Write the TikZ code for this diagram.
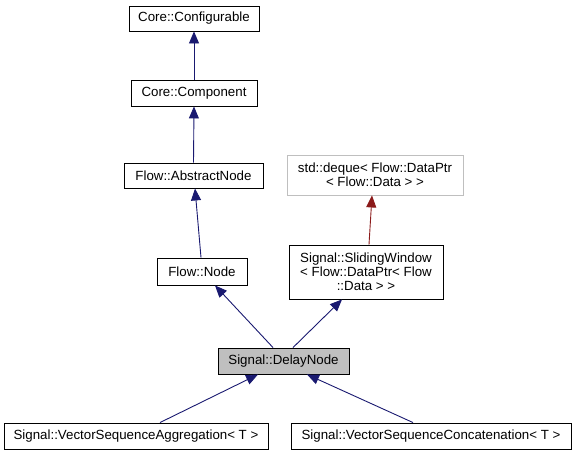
\documentclass[tikz,border=0pt]{standalone}
\usepackage{fontspec}
\setmainfont{Liberation Sans}
\usetikzlibrary{arrows.meta,calc}
\definecolor{edgeblue}{HTML}{191970}
\definecolor{edgered}{HTML}{8B1A1A}
\definecolor{nodegrey}{HTML}{BFBFBF}
\begin{document}
\begin{tikzpicture}[x=1pt,y=-1pt,
  cls/.style={draw=black, line width=0.9pt, inner sep=0pt, align=center,
    font=\fontsize{13.3}{14.2}\selectfont, text=black},
  ext/.style={cls, draw=nodegrey},
  cur/.style={cls, fill=nodegrey},
  inh/.style={draw=edgeblue, line width=0.9pt, -{Triangle[length=12pt,width=10pt]}},
  tmpl/.style={draw=edgered, line width=0.9pt, -{Triangle[length=12pt,width=10pt]}}]
\useasboundingbox (0,0) rectangle (576,455);

\node[cls, minimum width=130pt, minimum height=25pt] (conf) at (194,18.5) {Core::Configurable};
\node[cls, minimum width=126pt, minimum height=26pt] (comp) at (194,93) {Core::Component};
\node[cls, minimum width=139pt, minimum height=25pt] (abs) at (193.5,175.5) {Flow::AbstractNode};
\node[ext, minimum width=176pt, minimum height=40pt] (deque) at (375,175) {std::deque\string< Flow::DataPtr\\\string< Flow::Data \string> \string>};
\node[cls, minimum width=90pt, minimum height=27pt] (fnode) at (202,271.5) {Flow::Node};
\node[cls, minimum width=154pt, minimum height=54pt] (slide) at (366,272) {Signal::SlidingWindow\\\string< Flow::DataPtr\string< Flow\\::Data \string> \string>};
\node[cur, minimum width=131pt, minimum height=26pt] (delay) at (283.5,361) {Signal::DelayNode};
\node[cls, minimum width=264pt, minimum height=26pt] (agg) at (136,436) {Signal::VectorSequenceAggregation\string< T \string>};
\node[cls, minimum width=280pt, minimum height=26pt] (conc) at (431,436) {Signal::VectorSequenceConcatenation\string< T \string>};

\draw[inh] (comp.north) -- (conf.south);
\draw[inh] (abs.north) -- (comp.south);
\draw[inh] ([xshift=-1pt]fnode.north) -- ([xshift=1.5pt]abs.south);
\draw[tmpl] ([xshift=3pt]slide.north) -- ([xshift=-3pt]deque.south);
\draw[inh] ([xshift=-10.5pt]delay.north) -- ([xshift=13pt]fnode.south);
\draw[inh] ([xshift=9.5pt]delay.north) -- ([xshift=-24pt]slide.south);
\draw[inh] ([xshift=24pt]agg.north) -- ([xshift=-25.5pt]delay.south);
\draw[inh] ([xshift=-18pt]conc.north) -- ([xshift=23.5pt]delay.south);
\end{tikzpicture}
\end{document}
